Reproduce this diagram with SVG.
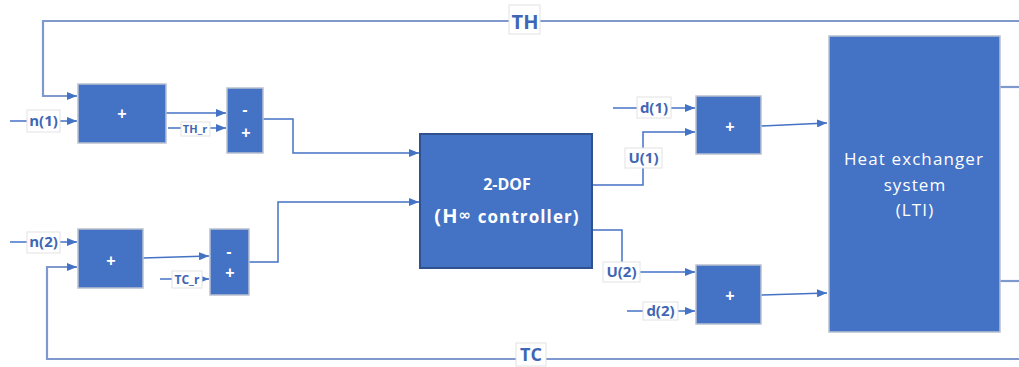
<svg xmlns="http://www.w3.org/2000/svg" width="1019" height="367" viewBox="0 0 1019 367">
<defs>
<marker id="ah" markerWidth="10" markerHeight="8" refX="10" refY="4" orient="auto" markerUnits="userSpaceOnUse"><path d="M0,0 L10,4 L0,8 z" fill="#4472C4"/></marker>
<style>
.blk{fill:#4472C4;stroke:#b8c0d0;stroke-width:1.5}
.ctl{fill:#4472C4;stroke:#2f528f;stroke-width:2}
.ln{fill:none;stroke:#4472C4;stroke-width:1.5}
.fb{fill:none;stroke:#7f98cd;stroke-width:2.2}
.lb{fill:#fff;stroke:#e2e2e2;stroke-width:1}
.lt{font-family:"Open Sans","Liberation Sans",sans-serif;font-weight:bold;fill:#3f66b4;text-anchor:middle}
.pl{font-family:"Liberation Sans",sans-serif;font-weight:bold;font-size:16px;fill:#fff;text-anchor:middle}
.wt{font-family:"Open Sans","Liberation Sans",sans-serif;fill:#fff;text-anchor:middle}
</style>
</defs>
<rect width="1019" height="367" fill="#fff"/>
<g id="connectors">
<path class="fb" d="M1019,21 H43 V96 H69"/>
<path class="ln" d="M69,96 H77" marker-end="url(#ah)"/>
<path class="fb" d="M1019,359 H47 V267 H69"/>
<path class="ln" d="M69,267 H77" marker-end="url(#ah)"/>
<path class="ln" d="M10,121 H77" marker-end="url(#ah)"/>
<path class="ln" d="M166,113 H226" marker-end="url(#ah)"/>
<path class="ln" d="M168,128 H226" marker-end="url(#ah)"/>
<path class="ln" d="M263,119 H293 V153 H419" marker-end="url(#ah)"/>
<path class="ln" d="M10,242 H77" marker-end="url(#ah)"/>
<path class="ln" d="M143,258 L209,256" marker-end="url(#ah)"/>
<path class="ln" d="M160,279 H209" marker-end="url(#ah)"/>
<path class="ln" d="M249,262 H278 V202 H419" marker-end="url(#ah)"/>
<path class="ln" d="M592,185 H643 V132 H695" marker-end="url(#ah)"/>
<path class="ln" d="M613,108 H695" marker-end="url(#ah)"/>
<path class="ln" d="M761,126 L827,123" marker-end="url(#ah)"/>
<path class="ln" d="M592,230 H622 V272 H695" marker-end="url(#ah)"/>
<path class="ln" d="M627,311 H695" marker-end="url(#ah)"/>
<path class="ln" d="M761,295 L827,293" marker-end="url(#ah)"/>
<path class="fb" d="M1000,87 H1019"/>
<path class="fb" d="M1000,281 H1019"/>
</g>
<g id="labels">
<rect class="lb" x="509" y="5" width="31" height="29"/>
<text class="lt" x="525" y="29" font-size="20">TH</text>
<rect class="lb" x="516" y="343" width="30" height="23"/>
<text class="lt" x="531" y="361" font-size="18">TC</text>
<rect class="lb" x="27" y="110" width="33" height="22"/>
<text class="lt" x="43.5" y="126" font-size="15">n(1)</text>
<rect class="lb" x="27" y="232" width="33" height="21"/>
<text class="lt" x="43.5" y="247" font-size="15">n(2)</text>
<rect class="lb" x="181" y="122" width="29" height="14"/>
<text class="lt" x="195" y="133" font-size="11" font-weight="normal">TH_r</text>
<rect class="lb" x="172" y="271" width="30" height="17"/>
<text class="lt" x="187" y="284" font-size="12">TC_r</text>
<rect class="lb" x="637" y="97" width="34" height="21"/>
<text class="lt" x="654" y="113" font-size="15">d(1)</text>
<rect class="lb" x="625" y="148" width="37" height="20"/>
<text class="lt" x="643.5" y="163" font-size="15">U(1)</text>
<rect class="lb" x="603" y="262" width="37" height="20"/>
<text class="lt" x="621.5" y="277" font-size="15">U(2)</text>
<rect class="lb" x="643" y="302" width="35" height="18"/>
<text class="lt" x="660.5" y="316" font-size="15">d(2)</text>
</g>
<g id="sum1"><rect class="blk" x="78" y="84" width="88" height="59"/><text class="pl" x="122" y="119">+</text></g>
<g id="sum2"><rect class="blk" x="227" y="88" width="36" height="65"/><text class="pl" x="245" y="115">-</text><text class="pl" x="246" y="138">+</text></g>
<g id="sum3"><rect class="blk" x="78" y="229" width="65" height="59"/><text class="pl" x="111" y="266">+</text></g>
<g id="sum4"><rect class="blk" x="210" y="229" width="39" height="66"/><text class="pl" x="229" y="257">-</text><text class="pl" x="230" y="278">+</text></g>
<g id="controller"><rect class="ctl" x="420" y="134" width="172" height="134"/>
<text class="wt" x="507" y="190" font-size="16" font-weight="bold">2-DOF</text>
<text class="wt" x="507" y="223" font-weight="bold" font-size="17" letter-spacing="1.1"><tspan font-size="20">(H</tspan><tspan font-family="DejaVu Sans" font-size="15" dy="-3">∞</tspan><tspan dy="3"> controller)</tspan></text></g>
<g id="sum5"><rect class="blk" x="696" y="96" width="65" height="58"/><text class="pl" x="730" y="132">+</text></g>
<g id="sum6"><rect class="blk" x="696" y="265" width="65" height="59"/><text class="pl" x="730" y="301">+</text></g>
<g id="plant"><rect class="blk" x="829" y="36" width="171" height="296"/>
<text class="wt" x="914" y="165" font-size="17" letter-spacing="1.1">Heat exchanger</text>
<text class="wt" x="915" y="191" font-size="17" letter-spacing="1.1">system</text>
<text class="wt" x="915" y="216" font-size="17" letter-spacing="1.1">(LTI)</text></g>
</svg>
